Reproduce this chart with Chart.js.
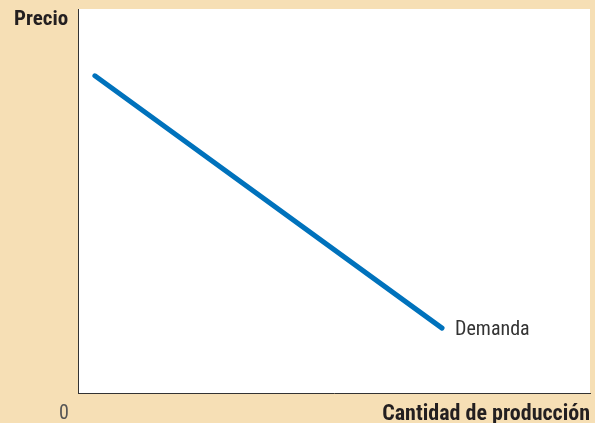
<!DOCTYPE html>
<html>
<head>
<meta charset="utf-8">
<script src="https://cdn.jsdelivr.net/npm/chart.js@4"></script>
<style>
  html, body { margin: 0; padding: 0; background: #f6dfb5; }
  #wrap { width: 595px; height: 423px; position: relative; }
</style>
</head>
<body>
<div id="wrap"><canvas id="chart" width="595" height="423"></canvas></div>
<script>
// Curva de demanda (valores en escala 0–100 de cada eje)
const cantidad = [3.3, 71.1];
const precio = [82.6, 16.9];
const etiquetaCurva = 'Demanda';
const tituloY = 'Precio';
const tituloX = 'Cantidad de producción';
const origen = '0';

const FONT = '"Liberation Sans Narrow", "Roboto Condensed", "Liberation Sans", sans-serif';

// Fondo beige, área blanca y textos
const decor = {
    id: 'decor',
    beforeDraw(chart) {
        const { ctx, chartArea: a } = chart;
        ctx.save();
        ctx.fillStyle = '#f6dfb5';
        ctx.fillRect(0, 0, chart.width, chart.height);
        ctx.fillStyle = '#ffffff';
        ctx.fillRect(a.left, a.top, a.right - a.left, a.bottom - a.top);
        ctx.restore();
    },
    afterDraw(chart) {
        const { ctx, chartArea: a, scales } = chart;
        ctx.save();
        ctx.fillStyle = '#231f20';
        ctx.textBaseline = 'alphabetic';
        ctx.font = 'bold 21px ' + FONT;
        ctx.textAlign = 'left';
        ctx.fillText(tituloY, 14, 25);
        ctx.font = 'bold 22px ' + FONT;
        ctx.textAlign = 'right';
        ctx.fillText(tituloX, a.right, 420);
        ctx.fillStyle = '#555555';
        ctx.font = '20px ' + FONT;
        ctx.textAlign = 'center';
        ctx.fillText(origen, 64, 419);
        // etiqueta junto al final de la curva
        const n = cantidad.length - 1;
        const x = scales.x.getPixelForValue(cantidad[n]);
        const y = scales.y.getPixelForValue(precio[n]);
        ctx.fillStyle = '#333333';
        ctx.font = '20px ' + FONT;
        ctx.textAlign = 'left';
        ctx.fillText(etiquetaCurva, x + 13, y + 7);
        ctx.restore();
    }
};

new Chart(document.getElementById('chart'), {
    type: 'line',
    data: {
        datasets: [{
            label: etiquetaCurva,
            data: cantidad.map((c, i) => ({ x: c, y: precio[i] })),
            borderColor: '#0072bc',
            borderWidth: 5,
            borderCapStyle: 'round',
            pointRadius: 0,
            fill: false
        }]
    },
    options: {
        responsive: false,
        animation: false,
        layout: { padding: { left: 78, top: 9, right: 5, bottom: 30 } },
        plugins: { legend: { display: false }, tooltip: { enabled: false } },
        scales: {
            x: {
                type: 'linear', min: 0, max: 100,
                ticks: { display: false },
                grid: { display: false, drawTicks: false },
                border: { display: true, color: '#333333', width: 1 }
            },
            y: {
                type: 'linear', min: 0, max: 100,
                ticks: { display: false },
                grid: { display: false, drawTicks: false },
                border: { display: true, color: '#333333', width: 1 }
            }
        }
    },
    plugins: [decor]
});
</script>
</body>
</html>
